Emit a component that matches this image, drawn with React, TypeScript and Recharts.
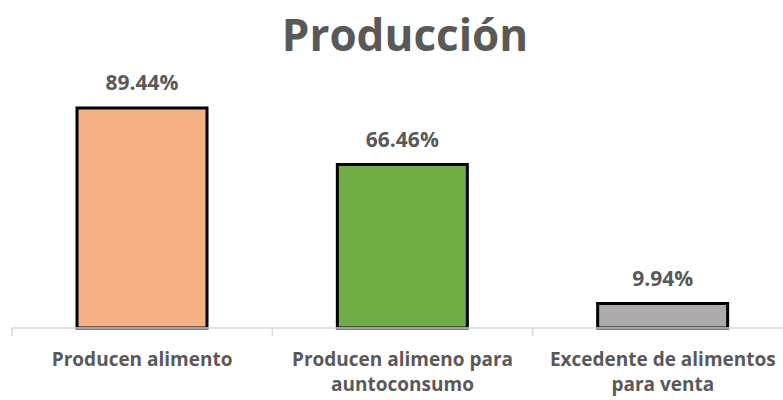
import React from 'react';
import { BarChart, Bar, XAxis, YAxis, LabelList, Cell } from 'recharts';

const categories = ['Producen alimento', 'Producen alimeno para auntoconsumo', 'Excedente de alimentos para venta'];
const values = [89.44, 66.46, 9.94];
const colors = ['#F4B183', '#70AD47', '#AEAAAA'];

const data = categories.map((name, i) => ({ name, value: values[i] }));

const W = 795;
const H = 400;
const margin = { top: 82, right: 2, left: 12, bottom: 12 };
const band = (W - margin.left - margin.right) / categories.length;
const font = '"Open Sans", sans-serif';

// simple greedy word wrap by character count
const wrap = (s: string, max = 22) => {
  const lines: string[] = [];
  let cur = '';
  s.split(' ').forEach((w) => {
    const next = cur ? cur + ' ' + w : w;
    if (next.length > max && cur) {
      lines.push(cur);
      cur = w;
    } else cur = next;
  });
  if (cur) lines.push(cur);
  return lines;
};

const CategoryTick = (props: any) => {
  const { x, y, payload, index } = props;
  return (
    <g>
      <line x1={x - band / 2} y1={y - 8} x2={x - band / 2} y2={y} stroke="#D9D9D9" strokeWidth={1.5} />
      {index === categories.length - 1 && (
        <line x1={x + band / 2} y1={y - 8} x2={x + band / 2} y2={y} stroke="#D9D9D9" strokeWidth={1.5} />
      )}
      <text textAnchor="middle" fontFamily={font} fontWeight={700} fontSize={19} fill="#595959">
        {wrap(payload.value).map((l, i) => (
          <tspan key={i} x={x} y={y + 30 + i * 25}>
            {l}
          </tspan>
        ))}
      </text>
    </g>
  );
};

export default function App() {
  return (
    <div style={{ position: 'absolute', left: 0, top: 0, width: 783, height: H, overflow: 'hidden', background: '#fff' }}>
      <svg width={783} height={70} style={{ position: 'absolute', left: 0, top: 0 }}>
        <text x={405} y={51} textAnchor="middle" fontFamily={font} fontWeight={700} fontSize={44} fill="#595959">
          Producción
        </text>
      </svg>
      <BarChart width={W} height={H} data={data} margin={margin} barSize={130}>
        <XAxis
          dataKey="name"
          axisLine={{ stroke: '#D9D9D9', strokeWidth: 1.5 }}
          tickLine={false}
          tick={<CategoryTick />}
          interval={0}
          height={60}
        />
        <YAxis hide domain={[0, 100]} />
        <Bar dataKey="value" stroke="#000" strokeWidth={3} isAnimationActive={false}>
          {data.map((d, i) => (
            <Cell key={d.name} fill={colors[i]} />
          ))}
          <LabelList
            dataKey="value"
            position="top"
            offset={18}
            formatter={(v: any) => `${Number(v).toFixed(2)}%`}
            style={{ fontFamily: font, fontWeight: 700, fontSize: 21, fill: '#595959' }}
          />
        </Bar>
      </BarChart>
    </div>
  );
}
